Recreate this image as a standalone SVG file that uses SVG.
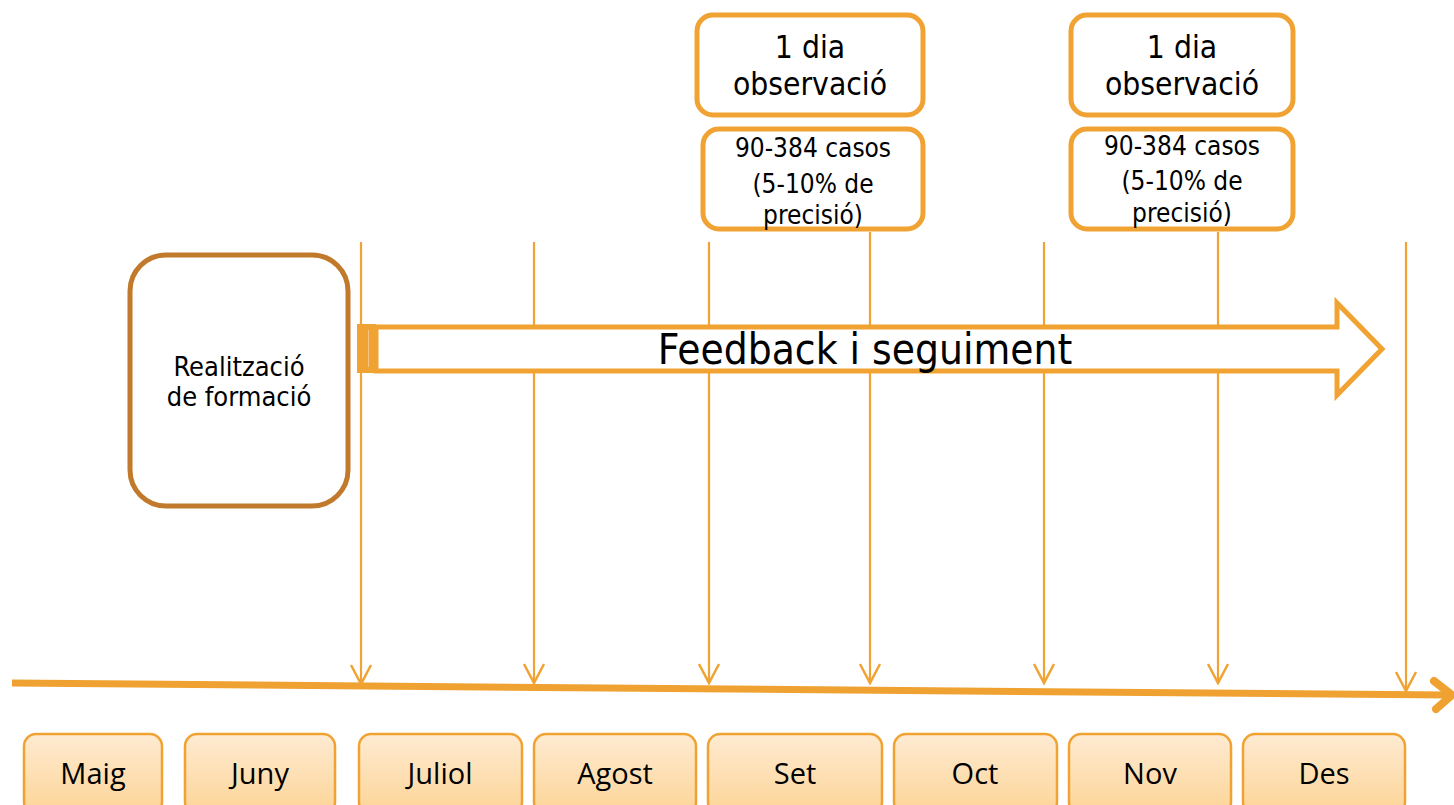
<svg xmlns="http://www.w3.org/2000/svg" width="1454" height="805" viewBox="0 0 1454 805">
  <defs>
    <linearGradient id="monthFill" x1="0" y1="0" x2="0" y2="1">
      <stop offset="0" stop-color="#FEEBD2"/>
      <stop offset="1" stop-color="#FDD496"/>
    </linearGradient>
    <!-- open chevron at the end of each month marker -->
    <marker id="tick" viewBox="0 0 22 24" refX="20" refY="12" markerWidth="22" markerHeight="24" markerUnits="userSpaceOnUse" orient="auto">
      <polyline points="1,2 20,12 1,22" fill="none" stroke="#F0A332" stroke-width="2.5"/>
    </marker>
  </defs>
  <style>
    .box { fill: #FFFFFF; stroke: #F0A332; stroke-width: 5; }
    .train { fill: #FFFFFF; stroke: #C17A2C; stroke-width: 5; }
    .month rect { fill: url(#monthFill); stroke: #F0A332; stroke-width: 2.5; }
    .vline { stroke: #F0A332; stroke-width: 2.2; fill: none; }
    .txt { font-family: "DejaVu Sans Condensed", "DejaVu Sans", sans-serif; fill: #000000; text-anchor: middle; font-stretch: condensed; }
    .mtxt { font-family: "Open Sans", "Noto Sans", sans-serif; font-size: 29px; fill: #000000; text-anchor: middle; }
  </style>

  <!-- timeline axis and month markers -->
  <g id="connectors">
    <line x1="12" y1="683" x2="1448" y2="695" stroke="#EFA231" stroke-width="7"/>
    <polyline points="1434,681 1452,695 1436,709" fill="none" stroke="#EFA231" stroke-width="8" stroke-linecap="round" stroke-linejoin="round"/>
    <line class="vline" x1="361" y1="242" x2="361" y2="684" marker-end="url(#tick)"/>
    <line class="vline" x1="534" y1="242" x2="534" y2="683" marker-end="url(#tick)"/>
    <line class="vline" x1="709" y1="242" x2="709" y2="683" marker-end="url(#tick)"/>
    <line class="vline" x1="870" y1="232" x2="870" y2="683" marker-end="url(#tick)"/>
    <line class="vline" x1="1044" y1="242" x2="1044" y2="683" marker-end="url(#tick)"/>
    <line class="vline" x1="1218" y1="232" x2="1218" y2="683" marker-end="url(#tick)"/>
    <line class="vline" x1="1406" y1="242" x2="1406" y2="691" marker-end="url(#tick)"/>
  </g>

  <!-- feedback block arrow -->
  <g id="feedback">
    <path d="M376,327 L1337,327 L1337,303 L1382,349 L1337,395 L1337,371 L376,371 Z" fill="#FFFFFF" stroke="#F0A332" stroke-width="5" stroke-linejoin="miter"/>
    <rect x="357" y="324" width="19" height="49" fill="#F0A332"/>
    <line x1="368.5" y1="330" x2="368.5" y2="367" stroke="#F6C585" stroke-width="1"/>
    <text class="txt" x="865" y="364" font-size="42">Feedback i seguiment</text>
  </g>

  <!-- training -->
  <g id="formacio">
    <rect class="train" x="130" y="255" width="218" height="251" rx="36"/>
    <text class="txt" x="239" y="376" font-size="27">Realització</text>
    <text class="txt" x="239" y="406" font-size="27">de formació</text>
  </g>

  <!-- observation day, September -->
  <g id="obs-set">
    <rect class="box" x="697" y="15" width="226" height="100" rx="16"/>
    <text class="txt" x="810" y="58" font-size="31.5">1 dia</text>
    <text class="txt" x="810" y="95" font-size="31.5">observació</text>
  </g>
  <g id="casos-set">
    <rect class="box" x="703" y="129" width="220" height="100" rx="16"/>
    <text class="txt" x="813" y="157" font-size="26">90-384 casos</text>
    <text class="txt" x="813" y="193" font-size="26">(5-10% de</text>
    <text class="txt" x="813" y="224" font-size="26">precisió)</text>
  </g>

  <!-- observation day, November -->
  <g id="obs-nov">
    <rect class="box" x="1071" y="15" width="222" height="100" rx="16"/>
    <text class="txt" x="1182" y="58" font-size="31.5">1 dia</text>
    <text class="txt" x="1182" y="95" font-size="31.5">observació</text>
  </g>
  <g id="casos-nov">
    <rect class="box" x="1071" y="129" width="222" height="100" rx="16"/>
    <text class="txt" x="1182" y="155" font-size="26">90-384 casos</text>
    <text class="txt" x="1182" y="190" font-size="26">(5-10% de</text>
    <text class="txt" x="1182" y="222" font-size="26">precisió)</text>
  </g>

  <!-- months -->
  <g id="m-maig" class="month"><rect x="24" y="734" width="138" height="80" rx="12"/><text class="mtxt" x="93" y="784">Maig</text></g>
  <g id="m-juny" class="month"><rect x="185" y="734" width="150" height="80" rx="12"/><text class="mtxt" x="260" y="784">Juny</text></g>
  <g id="m-juliol" class="month"><rect x="359" y="734" width="163" height="80" rx="12"/><text class="mtxt" x="440" y="784">Juliol</text></g>
  <g id="m-agost" class="month"><rect x="534" y="734" width="162" height="80" rx="12"/><text class="mtxt" x="615" y="784">Agost</text></g>
  <g id="m-set" class="month"><rect x="708" y="734" width="174" height="80" rx="12"/><text class="mtxt" x="795" y="784">Set</text></g>
  <g id="m-oct" class="month"><rect x="894" y="734" width="163" height="80" rx="12"/><text class="mtxt" x="975" y="784">Oct</text></g>
  <g id="m-nov" class="month"><rect x="1069" y="734" width="162" height="80" rx="12"/><text class="mtxt" x="1150" y="784">Nov</text></g>
  <g id="m-des" class="month"><rect x="1243" y="734" width="162" height="80" rx="12"/><text class="mtxt" x="1324" y="784">Des</text></g>
</svg>
